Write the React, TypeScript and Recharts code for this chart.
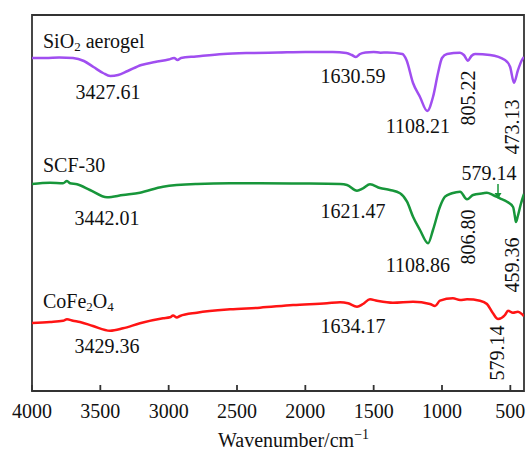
import React from "react";
import {
  LineChart,
  Line,
  XAxis,
  YAxis,
  ReferenceArea,
  Customized,
} from "recharts";

// wavenumber (cm-1) and offset transmittance (a.u.)
const sioWave = [4000, 3900, 3800, 3700, 3620, 3550, 3480, 3427, 3370, 3300, 3200, 3100, 3000, 2960, 2935, 2910, 2800, 2600, 2400, 2200, 2000, 1800, 1700, 1660, 1630, 1600, 1560, 1500, 1450, 1400, 1290, 1260, 1212, 1161, 1108, 1066, 1029, 1000, 963, 868, 840, 810, 785, 758, 649, 539, 502, 473, 444, 415, 400];
const sioT = [333, 333, 333.5, 333, 330, 324, 318, 315, 316, 320, 326, 329, 331.5, 333, 331, 333, 334.5, 337, 338, 338.5, 339, 339, 338, 336, 334, 337, 338.5, 339, 338.3, 338.5, 337, 331, 308, 294, 280, 294, 318, 333, 337, 338.3, 336, 330.3, 335, 337, 336, 331, 324.3, 308.3, 321, 331, 334];

const scfWave = [4000, 3868, 3773, 3744, 3722, 3671, 3576, 3451, 3334, 3210, 3041, 2793, 2551, 2332, 2000, 1746, 1695, 1622, 1578, 1527, 1454, 1381, 1307, 1256, 1212, 1161, 1102, 1066, 1015, 978, 927, 868, 817, 773, 700, 671, 627, 576, 524, 480, 466, 459, 445, 425, 405, 400];
const scfT = [207, 208.3, 207.7, 210, 207.7, 206.7, 201, 193.7, 196, 198.3, 204.3, 207, 207.7, 207.7, 207.5, 207, 206, 200.3, 202.7, 206.7, 203, 201, 197.7, 189.3, 174.3, 161, 147.7, 161, 184.3, 194.3, 197.7, 199.3, 191.7, 196, 197.7, 198.3, 196, 192.7, 189.3, 184, 174, 169, 175, 186, 195, 197];

const cfoWave = [4000, 3868, 3773, 3744, 3700, 3649, 3554, 3429, 3334, 3210, 3041, 2990, 2968, 2940, 2917, 2793, 2551, 2332, 2090, 1841, 1746, 1688, 1622, 1578, 1527, 1476, 1359, 1212, 1088, 1051, 1015, 920, 868, 817, 722, 671, 627, 590, 539, 517, 481, 444, 408, 400];
const cfoT = [68, 69, 70.3, 71.7, 70.3, 69, 65, 60.3, 62.7, 67.7, 72.7, 73.7, 75.5, 73.5, 75, 78.3, 81.7, 83.3, 86, 87.7, 88.7, 87.7, 84.3, 87, 91.7, 90.3, 88.3, 89.3, 87, 85, 90.3, 92.7, 91, 91.7, 90.3, 87, 77.7, 72, 76, 80.3, 78.3, 79.3, 76, 75];

const xTicks = [4000, 3500, 3000, 2500, 2000, 1500, 1000, 500];

const toRows = (w: number[], t: number[]) => w.map((x, i) => ({ w: x, t: t[i] }));
const sioData = toRows(sioWave, sioT);
const scfData = toRows(scfWave, scfT);
const cfoData = toRows(cfoWave, cfoT);

const FONT = '"Liberation Serif", "Times New Roman", serif';
const AXIS = "#333";
const PURPLE = "#a04ef0";
const GREEN = "#17963a";
const RED = "#ff1414";

function BottomTick({ x, y, payload }: any) {
  return (
    <g>
      <line x1={x} y1={y} x2={x} y2={y - 6} stroke={AXIS} strokeWidth={1.8} />
      <text x={x} y={y + 27} textAnchor="middle" fontSize={20} fontFamily={FONT} fill="#111">
        {payload.value}
      </text>
    </g>
  );
}

function Flat({ x, y, children, anchor = "middle" }: any) {
  return (
    <text x={x} y={y} textAnchor={anchor} fontSize={20} fontFamily={FONT} fill="#111">
      {children}
    </text>
  );
}

function Rot({ x, y, children }: any) {
  return (
    <text
      transform={`translate(${x},${y}) rotate(-90)`}
      textAnchor="middle"
      dominantBaseline="central"
      fontSize={20}
      fontFamily={FONT}
      fill="#111"
    >
      {children}
    </text>
  );
}

function Annotations() {
  return (
    <g>
      {/* SiO2 aerogel */}
      <Flat x={43} y={48} anchor="start">
        SiO<tspan fontSize={13} dy={3}>2</tspan>
        <tspan dy={-3}> aerogel</tspan>
      </Flat>
      <Flat x={108} y={99}>3427.61</Flat>
      <Flat x={353} y={83}>1630.59</Flat>
      <Flat x={418} y={133}>1108.21</Flat>
      <Rot x={468} y={98}>805.22</Rot>
      <Rot x={512} y={127}>473.13</Rot>

      {/* SCF-30 */}
      <Flat x={43} y={172} anchor="start">SCF-30</Flat>
      <Flat x={107} y={225}>3442.01</Flat>
      <Flat x={353} y={218}>1621.47</Flat>
      <Flat x={418} y={272}>1108.86</Flat>
      <Rot x={468} y={237}>806.80</Rot>
      <Rot x={512} y={265}>459.36</Rot>
      <Flat x={489} y={180}>579.14</Flat>
      <line x1={498} y1={184} x2={498} y2={194} stroke={GREEN} strokeWidth={1.5} />
      <polygon points="494.5,193 501.5,193 498,199" fill={GREEN} />

      {/* CoFe2O4 */}
      <Flat x={43} y={308} anchor="start">
        CoFe<tspan fontSize={13} dy={3}>2</tspan>
        <tspan dy={-3}>O</tspan>
        <tspan fontSize={13} dy={3}>4</tspan>
      </Flat>
      <Flat x={107} y={353}>3429.36</Flat>
      <Flat x={353} y={333}>1634.17</Flat>
      <Rot x={497} y={353}>579.14</Rot>

      {/* axis title */}
      <Flat x={218} y={447} anchor="start">
        Wavenumber/cm<tspan fontSize={14} dy={-8}>−1</tspan>
      </Flat>
    </g>
  );
}

export default function App() {
  return (
    <div style={{ position: "absolute", left: 0, top: 0, background: "#fff" }}>
      <LineChart width={527} height={453} margin={{ top: 15, right: 3, bottom: 22, left: 32 }}>
        <XAxis
          dataKey="w"
          type="number"
          domain={[400, 4000]}
          reversed
          ticks={xTicks}
          interval={0}
          allowDataOverflow
          height={40}
          tickSize={0}
          tickMargin={0}
          tickLine={false}
          axisLine={{ stroke: AXIS, strokeWidth: 1.8 }}
          tick={<BottomTick />}
        />
        <YAxis type="number" domain={[0, 376]} hide />
        {/* frame of the plot */}
        <ReferenceArea
          x1={400}
          x2={4000}
          y1={0}
          y2={376}
          fill="none"
          fillOpacity={0}
          stroke={AXIS}
          strokeWidth={1.8}
          strokeOpacity={1}
          ifOverflow="visible"
        />
        <Line data={sioData} dataKey="t" type="monotone" stroke={PURPLE} strokeWidth={2.5} dot={false} isAnimationActive={false} />
        <Line data={scfData} dataKey="t" type="monotone" stroke={GREEN} strokeWidth={2.5} dot={false} isAnimationActive={false} />
        <Line data={cfoData} dataKey="t" type="monotone" stroke={RED} strokeWidth={2.5} dot={false} isAnimationActive={false} />
        <Customized component={<Annotations />} />
      </LineChart>
    </div>
  );
}
